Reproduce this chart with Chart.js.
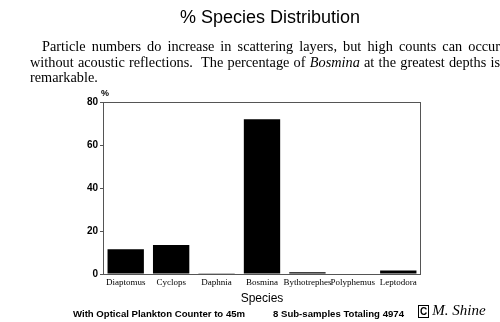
<!DOCTYPE html>
<html>
<head>
<meta charset="utf-8">
<script src="https://cdn.jsdelivr.net/npm/chart.js@4.4.0/dist/chart.umd.min.js"></script>
<style>
  body { margin: 0; background: #fff; }
  #wrap { position: relative; width: 500px; height: 322px; overflow: hidden; }
  #chart { position: absolute; left: 0; top: 0; }
  .t { position: absolute; white-space: nowrap; color: #000; }
  #title { left: 0; width: 540px; top: 7px; text-align: center; font: 18px "Liberation Sans", Arial, sans-serif; }
  #para { left: 30px; width: 470px; top: 39px; font: 14.3px/15.5px "Liberation Serif", "Times New Roman", serif; white-space: normal; text-align: justify; text-indent: 12px; }
  #foot1 { left: 73px; top: 308px; font: bold 9.6px "Liberation Sans", Arial, sans-serif; }
  #foot2 { left: 273px; top: 308px; font: bold 9.6px "Liberation Sans", Arial, sans-serif; }
  #sig { left: 418px; top: 302px; font: italic 15px "Liberation Serif", serif; }
  #sig span { border: 1px solid #000; font: bold 10px "Liberation Sans", sans-serif; font-style: normal; padding: 0 1px; margin-right: 3px; }
</style>
</head>
<body>
<div id="wrap">
  <canvas id="chart" width="500" height="322"></canvas>
  <div class="t" id="title">% Species Distribution</div>
  <div class="t" id="para">Particle numbers do increase in scattering layers, but high counts can occur without acoustic reflections.&nbsp; The percentage of <i>Bosmina</i> at the greatest depths is remarkable.</div>
  <div class="t" id="foot1">With Optical Plankton Counter to 45m</div>
  <div class="t" id="foot2">8 Sub-samples Totaling 4974</div>
  <div class="t" id="sig"><span>C</span>M. Shine</div>
</div>
<script>
// species and percentages
var species = ['Diaptomus', 'Cyclops', 'Daphnia', 'Bosmina', 'Bythotrephes', 'Polyphemus', 'Leptodora'];
var percent = [11.5, 13.5, 0.3, 72, 0.8, 0.2, 1.6];
var yTicks = [0, 20, 40, 60, 80];

// draws the "%" above the y axis and a frame round the plot
var framePlugin = {
    id: 'frame',
    afterDraw: function (chart) {
        var ctx = chart.ctx;
        var a = chart.chartArea;
        ctx.save();
        ctx.strokeStyle = '#555';
        ctx.lineWidth = 1;
        ctx.strokeRect(a.left + 0.5, a.top + 0.5, a.right - a.left - 1, a.bottom - a.top);
        ctx.fillStyle = '#000';
        ctx.font = 'bold 9px "Liberation Sans", Arial, sans-serif';
        ctx.textAlign = 'center';
        ctx.fillText('%', a.left + 2, a.top - 6);
        ctx.restore();
    }
};

var ctx = document.getElementById('chart').getContext('2d');
var chart = new Chart(ctx, {
    type: 'bar',
    data: {
        labels: species,
        datasets: [{
            label: '% Species',
            data: percent,
            backgroundColor: '#000',
            borderWidth: 0,
            barPercentage: 0.8,
            categoryPercentage: 1.0
        }]
    },
    options: {
        responsive: false,
        animation: false,
        layout: { padding: { top: 102, right: 79, bottom: 16, left: 56 } },
        plugins: { legend: { display: false }, tooltip: { enabled: false } },
        scales: {
            x: {
                grid: { display: false, drawTicks: false },
                border: { display: false },
                ticks: {
                    color: '#000',
                    padding: 3,
                    maxRotation: 0,
                    autoSkip: false,
                    font: { family: '"Liberation Serif", "Times New Roman", serif', size: 9 }
                },
                title: {
                    display: true,
                    text: 'Species',
                    color: '#000',
                    padding: { top: 1, bottom: 0 },
                    font: { family: '"Liberation Sans", Arial, sans-serif', size: 12 }
                },
                afterFit: function (scale) { scale.height = 32; }
            },
            y: {
                min: 0,
                max: 80,
                afterBuildTicks: function (scale) {
                    scale.ticks = yTicks.map(function (v) { return { value: v }; });
                },
                grid: { drawOnChartArea: false, tickLength: 3, color: '#555' },
                border: { display: false },
                ticks: {
                    color: '#000',
                    padding: 2,
                    font: { family: '"Liberation Sans", Arial, sans-serif', size: 10, weight: 'bold' }
                },
                afterFit: function (scale) { scale.width = 47; }
            }
        }
    },
    plugins: [framePlugin]
});
</script>
</body>
</html>
